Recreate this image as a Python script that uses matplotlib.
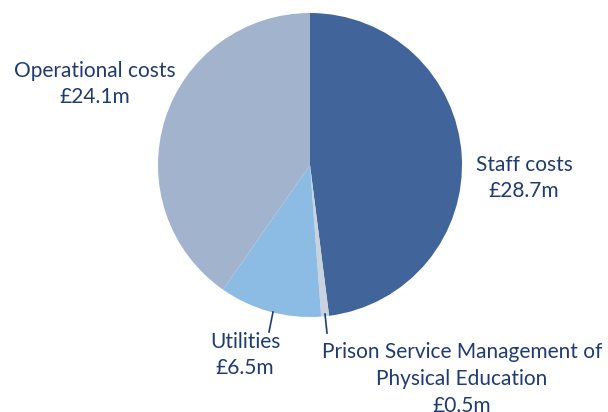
import matplotlib.pyplot as plt

labels = ["Staff costs\n£28.7m",
          "Prison Service Management of\nPhysical Education\n£0.5m",
          "Utilities\n£6.5m",
          "Operational costs\n£24.1m"]
values = [28.7, 0.5, 6.5, 24.1]
colors = ["#41649a", "#c9d3e0", "#8cbbe4", "#a2b3cd"]

text_color = "#1f3b73"
plt.rcParams['font.family'] = ['Lato', 'DejaVu Sans']

fig = plt.figure(figsize=(6.08, 4.12), dpi=100)
ax = fig.add_axes([0, 0, 1, 1])

# pie in pixel-like coordinates (y up)
cx, cy, r = 310, 412 - 165, 152
ax.pie(values, colors=colors, startangle=90, counterclock=False,
       center=(cx, cy), radius=r, wedgeprops=dict(linewidth=0))
ax.set_xlim(0, 608)
ax.set_ylim(0, 412)
ax.set_aspect('equal')
ax.axis('off')

fs = 15
ls = 1.43
ax.text(524, 412 - 178, labels[0], ha='center', va='center', fontsize=fs,
        color=text_color, linespacing=ls)
ax.text(462, 412 - 379, labels[1], ha='center', va='center', fontsize=fs,
        color=text_color, linespacing=ls, clip_on=False)
ax.text(245, 412 - 355, labels[2], ha='center', va='center', fontsize=fs,
        color=text_color, linespacing=ls)
ax.text(95, 412 - 84, labels[3], ha='center', va='center', fontsize=fs,
        color=text_color, linespacing=ls)

# leader lines
ax.plot([273, 269], [412 - 312, 412 - 332], color=text_color, lw=1.2)
ax.plot([325, 327], [412 - 314, 412 - 333], color=text_color, lw=1.2)

fig.savefig("out.png", dpi=100)
